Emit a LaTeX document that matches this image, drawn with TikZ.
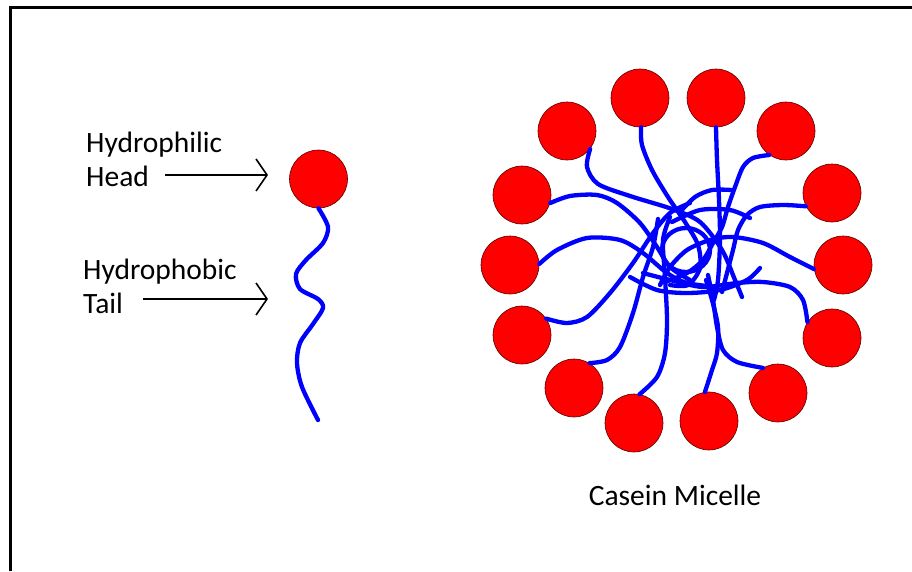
\documentclass[tikz,border=0pt]{standalone}
\usepackage{fontspec}
\setmainfont{Carlito}
\usetikzlibrary{arrows.meta}
\begin{document}
\begin{tikzpicture}[x=1pt,y=-1pt,
  headball/.style={circle,fill=red,draw=red!35!black,line width=0.6pt,minimum size=58pt,inner sep=0pt},
  tailline/.style={draw=blue,line width=4.3pt,line cap=round,line join=round},
  lbl/.style={font=\fontsize{29.5}{35}\selectfont,inner sep=0pt},
  pointer/.style={line width=1.6pt,-{Straight Barb[length=11pt,width=32pt]}}]
\useasboundingbox (0,0) rectangle (912,571);
% frame: top and left edges only
\draw[line width=2.6pt] (10.7,571) -- (10.7,7.2) -- (912,7.2);

% ---- single casein molecule ----
\node[headball] (h0) at (318.5,179) {};
\draw[tailline] plot[smooth] coordinates {(h0.south) (328,227) (323,243) (306,260) (296,274)
  (300,289) (318,299) (323,308) (313,324) (300,343) (297,363) (302,387) (318,420)};

\node[lbl,anchor=base west] (t1) at (86,152) {Hydrophilic};
\node[lbl,anchor=base west] (t2) at (86,186) {Head};
\node[lbl,anchor=base west] (t3) at (83,279) {Hydrophobic};
\node[lbl,anchor=base west] (t4) at (83,313) {Tail};
\coordinate (a1) at (268,175);
\coordinate (a2) at (268,299);
\draw[pointer] (165,175) -- (a1);
\draw[pointer] (143,299) -- (a2);

% ---- micelle: hydrophilic heads on a ring ----
\foreach \n/\x/\y in {1/567/131, 2/640/98, 3/716/98, 4/786/131, 5/832/193, 6/843/265,
  7/832/338, 8/778/393, 9/709/421, 10/634/423, 11/574/388, 12/522/335, 13/510/265, 14/522/195}
  \node[headball] (m\n) at (\x,\y) {};

% ---- tangled hydrophobic tails ----
\draw[tailline] plot[smooth] coordinates {(m1.-38) (587,167) (598,184) (630,196) (672,209) (700,222) (722,250) (735,280) (742,297)};
\draw[tailline] plot[smooth] coordinates {(m2.-88) (642,145) (652,170) (668,197) (685,222) (698,245) (700,268) (688,285) (670,285)};
\draw[tailline] plot[smooth] coordinates {(m3.-90) (717,160) (719,200) (720,240) (718,280) (714,300)};
\draw[tailline] plot[smooth] coordinates {(m4.-125) (753,158) (743,167) (735,187) (728,207) (722,227) (713,243) (703,260) (687,273) (665,282)};
\draw[tailline] plot[smooth] coordinates {(m5.-153) (783,205) (760,207) (747,215) (738,230) (733,250) (727,273) (722,292)};
\draw[tailline] plot[smooth] coordinates {(m6.-172) (790,257) (763,243) (733,237) (710,240) (687,250) (670,267) (660,285)};
\draw[tailline] plot[smooth] coordinates {(m7.147) (803,300) (790,287) (763,282) (737,283) (703,287) (670,280) (643,273)};
\draw[tailline] plot[smooth] coordinates {(m8.121) (737,362) (723,350) (717,327) (713,300) (708,275)};
\draw[tailline] plot[smooth] coordinates {(m9.98) (712,370) (717,353) (718,327) (712,300) (706,280)};
\draw[tailline] plot[smooth] coordinates {(m10.79) (657,377) (665,353) (667,320) (665,277) (663,240) (670,217)};
\draw[tailline] plot[smooth] coordinates {(m11.58) (607,360) (620,347) (633,313) (643,277) (653,247) (658,219)};
\draw[tailline] plot[smooth] coordinates {(m12.34) (567,323) (587,317) (610,293) (633,263) (653,233) (670,213) (690,203)};
\draw[tailline] plot[smooth] coordinates {(m13.2) (557,250) (587,238) (620,240) (643,253) (667,273) (687,283) (717,287)};
\draw[tailline] plot[smooth] coordinates {(m14.-16) (570,196) (597,195) (617,203) (640,223) (657,247) (670,267) (690,280)};
% knotted core
\draw[tailline] plot[smooth] coordinates {(680,212) (695,197) (712,190) (732,190)};
\draw[tailline] plot[smooth] coordinates {(672,222) (700,210) (730,210) (750,218)};
\draw[tailline] (686,250) ellipse [x radius=24, y radius=22];
\draw[tailline] plot[smooth] coordinates {(630,277) (657,290) (687,293) (720,290) (747,280) (760,268)};

\node[lbl,anchor=base] (cap) at (675,505) {Casein Micelle};
\end{tikzpicture}
\end{document}
